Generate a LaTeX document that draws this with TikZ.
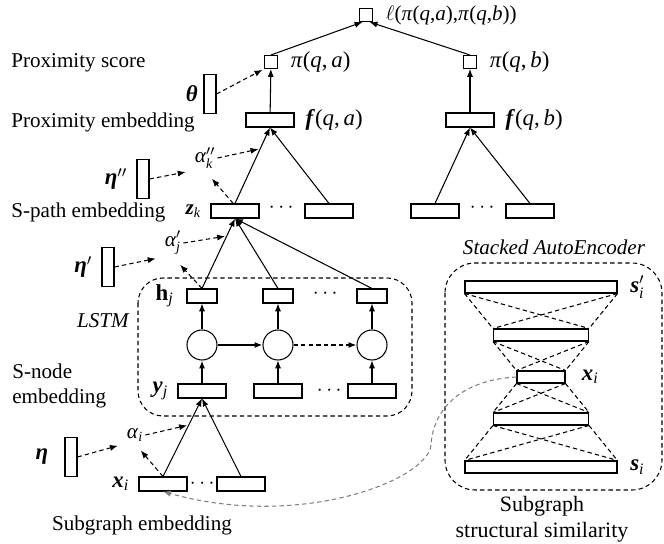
\documentclass[tikz,border=0pt]{standalone}
\usepackage{amsmath}
\usepackage{fontspec}
\setmainfont{Liberation Serif}
\usetikzlibrary{arrows.meta, calc, positioning}
\newcommand{\mvar}[1]{\textit{#1}}
\newcommand{\bvar}[1]{\textbf{\textit{#1}}}

\begin{document}
\begin{tikzpicture}[x=0.02cm, y=-0.02cm, font=\fontsize{12}{14}\selectfont,
		>={Latex[length=4.5pt,width=3.5pt]}, line width=0.6pt,
		vec/.style={draw, minimum width=0.96cm, minimum height=0.28cm, inner sep=0pt},
		hvec/.style={vec, minimum width=0.6cm},
		sq/.style={draw, minimum size=0.26cm, inner sep=0pt},
		att/.style={draw, minimum width=0.24cm, minimum height=0.78cm, inner sep=0pt},
		cell/.style={draw, circle, minimum size=0.6cm, inner sep=0pt},
		layer/.style={draw, minimum height=0.24cm, inner sep=0pt},
		dsh/.style={dash pattern=on 2.5pt off 1.8pt},
		attarrow/.style={->, dsh, shorten >=1pt},
		lbl/.style={inner sep=1pt},
		biglbl/.style={lbl, font=\fontsize{13}{15}\selectfont}]
	\useasboundingbox (0,0) rectangle (664,544);
	% left column texts
	\node[anchor=west] (tscore) at (5,63) {Proximity score};
	\node[anchor=west] (tprox) at (5,122) {Proximity embedding};
	\node[anchor=west] (tpath) at (5,212) {S-path embedding};
	\node[anchor=west, align=left] (tsnode) at (6,386) {S-node\\embedding};
	\node (tsub) at (142,525) {Subgraph embedding};
	% loss and proximity
	\node[sq] (loss) at (366,15) {};
	\node[sq] (pia) at (271,62) {};
	\node[sq] (pib) at (470,62) {};
	\node[vec] (fa) at (270,120) {};
	\node[vec] (fb) at (470,120) {};
	\node[lbl, right=6pt of loss] (lloss) {$\ell$(\mvar{π}(\mvar{q},\mvar{a}),\mvar{π}(\mvar{q},\mvar{b}))};
	\node[biglbl, right=6pt of pia] (lpia) {\mvar{π}(\mvar{q},\,\mvar{a})};
	\node[biglbl, right=6pt of pib] (lpib) {\mvar{π}(\mvar{q},\,\mvar{b})};
	\node[biglbl, right=5pt of fa] (lfa) {\bvar{f}(\mvar{q},\,\mvar{a})};
	\node[biglbl, right=5pt of fb] (lfb) {\bvar{f}(\mvar{q},\,\mvar{b})};
	\draw[->] (pia.north) -- ([xshift=-2pt]loss.south);
	\draw[->] (pib.north) -- ([xshift=2pt]loss.south);
	\draw[->] (fa) -- (pia);
	\draw[->] (fb) -- (pib);
	% s-path embeddings
	\node[vec] (za1) at (235,211) {};
	\node[vec] (za2) at (329,211) {};
	\node[vec] (zb1) at (435,211) {};
	\node[vec] (zb2) at (530,211) {};
	\node (zadots) at (283,208) {$\cdots$};
	\node (zbdots) at (484,208) {$\cdots$};
	\node[lbl, left=4pt of za1] (lz) {\bvar{z}\textsubscript{\mvar{k}}};
	\draw[->] (za1.north) -- (fa.south);
	\draw[->] (za2.north) -- (fa.south);
	\draw[->] (zb1.north) -- (fb.south);
	\draw[->] (zb2.north) -- (fb.south);
	% LSTM
	\draw[dsh, rounded corners=0.5cm] (138,278) rectangle (412,416);
	\node[font=\itshape\fontsize{12}{14}\selectfont] (tlstm) at (103,321) {LSTM};
	\foreach \i/\x in {1/202, 2/278, 3/372} {
		\node[hvec] (h\i) at (\x,296) {};
		\node[cell] (c\i) at (\x,345) {};
		\node[vec] (y\i) at (\x,391) {};
		\draw[->] (c\i) -- (h\i);
		\draw[->] (h\i.north) -- (za1.south);
	}
	\draw[->, line width=1.1pt] (y1) -- (c1);
	\draw[->] (y2) -- (c2);
	\draw[->] (y3) -- (c3);
	\draw[->, line width=1.1pt] (c1) -- (c2);
	\draw[->, line width=1.1pt, dsh] (c2) -- (c3);
	\node (hdots) at (327,294) {$\cdots$};
	\node (ydots) at (331,391) {$\cdots$};
	\node[biglbl, left=6pt of h1] (lh) {\textbf{h}\textsubscript{\mvar{j}}};
	\node[biglbl, left=4pt of y1] (ly) {\bvar{y}\textsubscript{\mvar{j}}};
	% subgraph embeddings
	\node[vec] (x1) at (163,484) {};
	\node[vec] (x2) at (241,484) {};
	\node (xdots) at (204,484) {$\cdots$};
	\node[biglbl, left=4pt of x1] (lx) {\bvar{x}\textsubscript{\mvar{i}}};
	\draw[->] (x1.north) -- (y1.south);
	\draw[->] (x2.north) -- (y1.south);
	% attention
	\node[att] (th) at (210,94) {};
	\node[biglbl, left=2pt of th] (lth) {\bvar{θ}};
	\draw[attarrow] (th.east) -- (pia.south west);
	\node[att] (eta3) at (143,179) {};
	\node[biglbl, left=4pt of eta3] (leta3) {\bvar{η}$''$};
	\node[lbl] (al3) at (205,158) {$\text{\mvar{α}}''_{\text{\mvar{k}}}$};
	\draw[attarrow, shorten >=4pt] (eta3.east) -- (al3.south west);
	\draw[attarrow] (al3.east) -- ($(za1.north)!0.72!(fa.south)$);
	\draw[attarrow, shorten >=6pt] ([xshift=-1pt]za1.north) -- (al3.south);
	\node[att] (eta2) at (108,267) {};
	\node[biglbl, left=4pt of eta2] (leta2) {\bvar{η}$'$};
	\node[lbl] (al2) at (173,243) {$\text{\mvar{α}}'_{\text{\mvar{j}}}$};
	\draw[attarrow, shorten >=4pt] (eta2.east) -- (al2.south west);
	\draw[attarrow] (al2.east) -- ($(h1.north)!0.75!(za1.south)$);
	\draw[attarrow, shorten >=6pt] (h1.north) -- (al2.south);
	\node[att] (eta1) at (71,457) {};
	\node[biglbl, left=8pt of eta1] (leta1) {\bvar{η}};
	\node[lbl] (al1) at (135,435) {\mvar{α}\textsubscript{\mvar{i}}};
	\draw[attarrow, shorten >=4pt] (eta1.east) -- (al1.south west);
	\draw[attarrow] (al1.east) -- ($(x1.north)!0.66!(y1.south)$);
	\draw[attarrow, shorten >=5pt] (x1.north) -- (al1.south);
	% stacked autoencoder
	\draw[dsh, rounded corners=0.6cm] (445,263) rectangle (662,490);
	\node[font=\itshape\fontsize{12}{14}\selectfont] (tsae) at (554,247) {Stacked AutoEncoder};
	\node[align=center, font=\fontsize{12.5}{15}\selectfont] (tsim) at (542,519) {Subgraph\\structural similarity};
	\node[layer, minimum width=3.04cm] (s1) at (541,287) {};
	\node[layer, minimum width=1.9cm] (s2) at (541,335) {};
	\node[layer, minimum width=0.96cm] (s3) at (541,377) {};
	\node[layer, minimum width=1.9cm] (s4) at (541,419) {};
	\node[layer, minimum width=3.04cm] (s5) at (541,467) {};
	\node[biglbl, right=6pt of s1] (ls1) {$\text{\bvar{s}}'_{\text{\mvar{i}}}$};
	\node[biglbl, right=8pt of s3] (ls3) {\bvar{x}\textsubscript{\mvar{i}}};
	\node[biglbl, right=6pt of s5] (ls5) {\bvar{s}\textsubscript{\mvar{i}}};
	\foreach \u/\l in {s1/s2, s2/s3, s3/s4, s4/s5}
		\foreach \a in {west, east}
			\foreach \b in {west, east}
				\draw[dsh] (\u.south \a) -- (\l.north \b);
	\draw[->, gray, dsh] (s3.west) .. controls (460,380) and (433,410) .. (431,445)
		.. controls (428,480) and (300,530) .. (x1.south);
\end{tikzpicture}
\end{document}
